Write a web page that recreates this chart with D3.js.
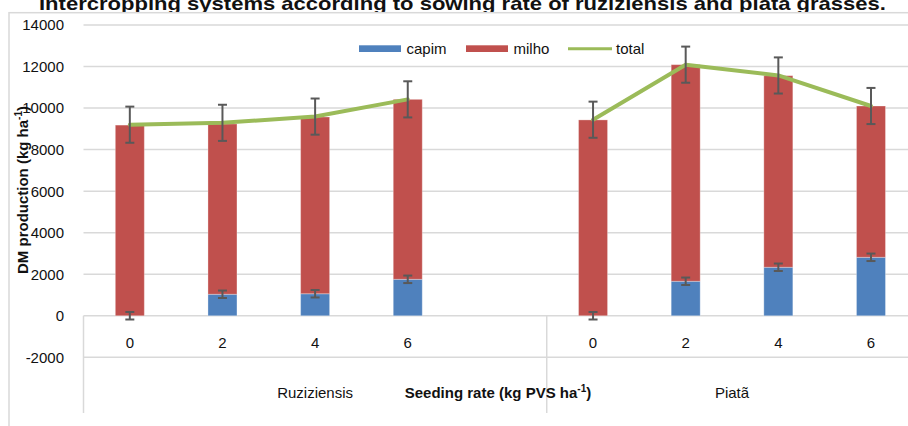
<!DOCTYPE html>
<html><head><meta charset="utf-8">
<script src="https://cdn.jsdelivr.net/npm/d3@7"></script>
<style>
html,body{margin:0;padding:0;background:#fff;overflow:hidden}
svg{display:block}
text{font-family:"Liberation Sans",Arial,Helvetica,sans-serif;fill:#111}
</style>
</head><body>
<svg id="chart" width="908" height="426"></svg>
<script>
// ---- data ----
const titleText = "Intercropping systems according to sowing rate of ruziziensis and piata grasses.";
const groups = ["Ruziziensis", "Piatã"];
const rates = ["0", "2", "4", "6"];
const capim    = [0, 1035, 1060, 1755, 0, 1660, 2335, 2815];
const milho    = [9180, 8200, 8510, 8665, 9430, 10430, 9225, 7285];
const total    = [9200, 9290, 9590, 10420, 9440, 12090, 11570, 10100];
const totalErr = [870, 870, 870, 870, 870, 870, 870, 870];
const capimErr = [180, 180, 180, 180, 180, 180, 180, 180];
const yTicks = [-2000, 0, 2000, 4000, 6000, 8000, 10000, 12000, 14000];
const seriesNames = ["capim", "milho", "total"];
const colors = {capim: "#4f81bd", milho: "#c0504d", total: "#9bbb59"};

// slots: each group's rates, with an empty slot after the first group
const slots = [];
groups.forEach((g, gi) => {
  rates.forEach(r => slots.push(g + "|" + r));
  if (gi < groups.length - 1) slots.push(g + "|");
});
const dataSlots = slots.filter(s => !s.endsWith("|"));
const rows = dataSlots.map((s, i) => ({
  slot: s, group: s.split("|")[0], rate: s.split("|")[1],
  capim: capim[i], milho: milho[i], total: total[i],
  totalErr: totalErr[i], capimErr: capimErr[i]
}));

// ---- layout ----
const svg = d3.select("#chart");
const plotL = 83.5, plotR = 917.3, axisBottom = 413;
const x = d3.scaleBand().domain(slots).range([plotL, plotR])
  .paddingInner(0.687).paddingOuter(0.3435);
const y = d3.scaleLinear().domain([-2000, 14000]).range([357.3, 25]);
const cx = s => x(s) + x.bandwidth() / 2;
const gap = (x.step() - x.bandwidth()) / 2;

// title (partly hidden behind the chart area, as in the reference)
svg.append("text").attr("x", 39).attr("y", 9.5)
  .attr("font-size", 19).attr("font-weight", "bold")
  .attr("textLength", 847).attr("lengthAdjust", "spacingAndGlyphs")
  .text(titleText);

// chart area (white) with border
svg.append("rect").attr("x", 9).attr("y", 12.7).attr("width", 1000).attr("height", 500)
  .attr("fill", "#fff").attr("stroke", "#d9d9d9").attr("stroke-width", 1.5);

// gridlines
svg.append("g").selectAll("line").data(yTicks).join("line")
  .attr("x1", plotL).attr("x2", plotR)
  .attr("y1", d => y(d)).attr("y2", d => y(d))
  .attr("stroke", "#d9d9d9").attr("stroke-width", 1.5);

// y tick labels
svg.append("g").selectAll("text").data(yTicks).join("text")
  .attr("x", 64).attr("y", d => y(d)).attr("dy", "0.36em")
  .attr("text-anchor", "end").attr("font-size", 15)
  .text(d => d);

// category axis frame: verticals at group boundaries
const groupBounds = groups.map(g => {
  const gs = slots.filter(s => s.startsWith(g + "|"));
  return {g, x0: x(gs[0]) - gap, x1: x(gs[gs.length - 1]) + x.bandwidth() + gap};
});
const vx = [groupBounds[0].x0, ...groupBounds.map(b => b.x1)];
svg.append("g").selectAll("line").data(vx).join("line")
  .attr("x1", d => d).attr("x2", d => d)
  .attr("y1", y(0)).attr("y2", axisBottom)
  .attr("stroke", "#d9d9d9").attr("stroke-width", 1.5);

// category tick labels
svg.append("g").selectAll("text").data(rows).join("text")
  .attr("x", d => cx(d.slot)).attr("y", 348)
  .attr("text-anchor", "middle").attr("font-size", 15)
  .text(d => d.rate);

// group labels
svg.append("g").selectAll("text").data(groupBounds).join("text")
  .attr("x", d => (d.x0 + d.x1) / 2).attr("y", 397.5)
  .attr("text-anchor", "middle").attr("font-size", 15)
  .text(d => d.g);

// x axis title
const xt = svg.append("text").attr("x", 498).attr("y", 397.5)
  .attr("text-anchor", "middle").attr("font-size", 15).attr("font-weight", "bold");
xt.append("tspan").text("Seeding rate (kg PVS ha");
xt.append("tspan").attr("font-size", 10).attr("dy", -6).text("-1");
xt.append("tspan").attr("dy", 6).text(")");

// y axis title
const yt = svg.append("text").attr("transform", "translate(28,190) rotate(-90)")
  .attr("text-anchor", "middle").attr("font-size", 15).attr("font-weight", "bold");
yt.append("tspan").text("DM production (kg ha");
yt.append("tspan").attr("font-size", 10).attr("dy", -6).text("-1");
yt.append("tspan").attr("dy", 6).text(")");

// stacked bars
const stack = d3.stack().keys(["capim", "milho"])(rows);
svg.append("g").selectAll("g").data(stack).join("g")
  .attr("fill", d => colors[d.key])
  .selectAll("rect").data(d => d).join("rect")
  .attr("x", d => x(d.data.slot)).attr("width", x.bandwidth())
  .attr("y", d => y(d[1])).attr("height", d => Math.max(0, y(d[0]) - y(d[1])))
  .attr("stroke", "rgba(255,255,255,0.3)").attr("stroke-width", 1);

// error bars
function errBars(key, errKey) {
  const g = svg.append("g").attr("stroke", "#595959").attr("stroke-width", 2).attr("fill", "none");
  rows.forEach(d => {
    const c = cx(d.slot), hi = y(d[key] + d[errKey]), lo = y(d[key] - d[errKey]);
    g.append("line").attr("x1", c).attr("x2", c).attr("y1", hi).attr("y2", lo);
    g.append("line").attr("x1", c - 4.5).attr("x2", c + 4.5).attr("y1", hi).attr("y2", hi);
    g.append("line").attr("x1", c - 4.5).attr("x2", c + 4.5).attr("y1", lo).attr("y2", lo);
  });
}
errBars("capim", "capimErr");

// total line (broken between groups)
const line = d3.line().x(d => cx(d.slot)).y(d => y(d.total));
groups.forEach(g => {
  svg.append("path").datum(rows.filter(r => r.group === g))
    .attr("d", line).attr("fill", "none")
    .attr("stroke", colors.total).attr("stroke-width", 4)
    .attr("stroke-linejoin", "round").attr("stroke-linecap", "round");
});
errBars("total", "totalErr");

// legend
const legendItems = [
  {name: seriesNames[0], x: 359, type: "rect"},
  {name: seriesNames[1], x: 466, type: "rect"},
  {name: seriesNames[2], x: 568, type: "line"}
];
const lg = svg.append("g");
legendItems.forEach(it => {
  if (it.type === "rect") {
    lg.append("rect").attr("x", it.x).attr("y", 45.3).attr("width", 42).attr("height", 6.7)
      .attr("fill", colors[it.name]);
  } else {
    lg.append("line").attr("x1", it.x).attr("x2", it.x + 44).attr("y1", 48.7).attr("y2", 48.7)
      .attr("stroke", colors[it.name]).attr("stroke-width", 3);
  }
  lg.append("text").attr("x", it.x + (it.type === "rect" ? 47.5 : 48)).attr("y", 53.5)
    .attr("font-size", 15).text(it.name);
});
</script>
</body></html>
